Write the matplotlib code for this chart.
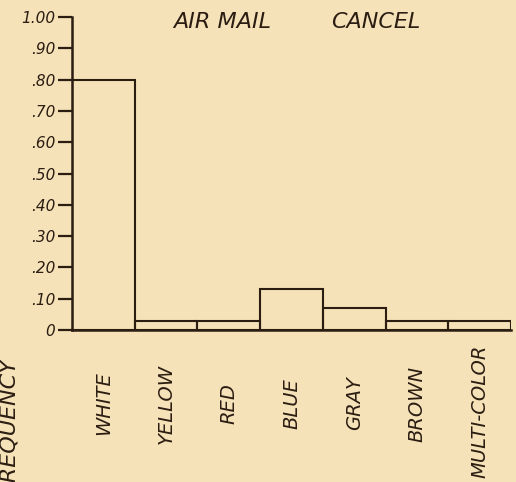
import matplotlib.pyplot as plt
import numpy as np

# hand drawn frequency chart of air mail cancel colours
colors = ["WHITE", "YELLOW", "RED", "BLUE", "GRAY", "BROWN", "MULTI-COLOR"]
freq = [0.80, 0.03, 0.03, 0.13, 0.07, 0.03, 0.03]
yticks = [0, 0.10, 0.20, 0.30, 0.40, 0.50, 0.60, 0.70, 0.80, 0.90, 1.00]
ytick_labels = ["0", ".10", ".20", ".30", ".40", ".50", ".60", ".70", ".80", ".90", "1.00"]

paper = "#f5e2b8"
ink = "#2b1d12"

fig = plt.figure(figsize=(5.16, 4.82), dpi=100, facecolor=paper)
ax = fig.add_axes([72 / 516, 152 / 482, 439 / 516, 313 / 482])
ax.set_facecolor(paper)

x = np.arange(len(colors))
ax.bar(x, freq, width=1.0, facecolor="none", edgecolor=ink, linewidth=1.5)

ax.set_xlim(-0.5, len(colors) - 0.5)
ax.set_ylim(0, 1.0)

ax.spines["top"].set_visible(False)
ax.spines["right"].set_visible(False)
for side in ["left", "bottom"]:
    ax.spines[side].set_color(ink)
    ax.spines[side].set_linewidth(1.8)

ax.set_yticks(yticks)
ax.set_yticklabels(ytick_labels, fontsize=11, style="italic", color=ink)
ax.tick_params(axis="y", length=10, width=1.6, color=ink, pad=2)

ax.set_xticks(x)
ax.set_xticklabels([])
ax.tick_params(axis="x", length=0)

# rotated category names under each bar
for xi, name in zip(x, colors):
    ypos = -0.26 if name == "MULTI-COLOR" else -0.235
    ax.text(xi, ypos, name, rotation=90, ha="center", va="center",
            fontsize=14, style="italic", color=ink,
            transform=ax.get_xaxis_transform(), clip_on=False)

# title in two parts, spaced like the hand lettering
fig.text(222 / 516, 1 - 22 / 482, "AIR MAIL", ha="center", va="center",
         fontsize=16, style="italic", color=ink)
fig.text(376 / 516, 1 - 22 / 482, "CANCEL", ha="center", va="center",
         fontsize=16, style="italic", color=ink)

# y label runs off the bottom of the sheet
fig.text(9 / 516, 1 - 358 / 482, "FREQUENCY", rotation=90, ha="center", va="top",
         fontsize=16, style="italic", color=ink)

fig.savefig("out.png", dpi=100, facecolor=paper)
